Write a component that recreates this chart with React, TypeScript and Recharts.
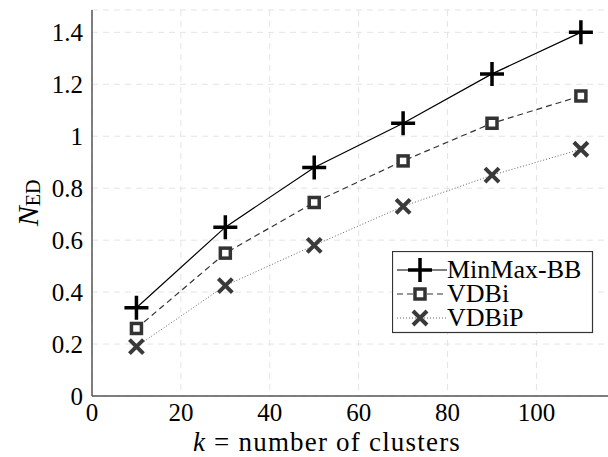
import React from "react";
import { LineChart, Line, XAxis, YAxis, CartesianGrid, Legend } from "recharts";

const clusters = [10, 30, 50, 70, 90, 110];
const minMaxBB = [0.34, 0.65, 0.88, 1.05, 1.24, 1.4];
const vdbi = [0.26, 0.55, 0.745, 0.905, 1.05, 1.155];
const vdbip = [0.19, 0.425, 0.58, 0.73, 0.85, 0.95];

const xTicks = [0, 20, 40, 60, 80, 100];
const yTicks = [0, 0.2, 0.4, 0.6, 0.8, 1, 1.2, 1.4];
const yTickLabels = ["0", "0.2", "0.4", "0.6", "0.8", "1", "1.2", "1.4"];

const data = clusters.map((k, i) => ({ k, minMax: minMaxBB[i], vdbi: vdbi[i], vdbip: vdbip[i] }));

const FONT = "Liberation Serif";

const plusMark = (cx: number, cy: number, key?: any) => (
  <path key={key} d={`M${cx - 12},${cy}h24M${cx},${cy - 12}v24`} stroke="#000" strokeWidth={3.5} fill="none" />
);
const squareMark = (cx: number, cy: number, key?: any) => (
  <rect key={key} x={cx - 5} y={cy - 5} width={10} height={10} stroke="#333" strokeWidth={3.5} fill="#fff" />
);
const crossMark = (cx: number, cy: number, key?: any) => (
  <path key={key} d={`M${cx - 7},${cy - 7}L${cx + 7},${cy + 7}M${cx - 7},${cy + 7}L${cx + 7},${cy - 7}`} stroke="#3a3a3a" strokeWidth={4} fill="none" />
);

const legendItems = [
  { name: "MinMax-BB", mark: plusMark, stroke: "#000", dash: undefined as string | undefined },
  { name: "VDBi", mark: squareMark, stroke: "#333", dash: "6 4" },
  { name: "VDBiP", mark: crossMark, stroke: "#666", dash: "1 2" },
];

function LegendBox() {
  const rows = [19, 43, 67];
  return (
    <svg width={202} height={83}>
      <rect x={0.5} y={0.5} width={200} height={81} fill="#fff" stroke="#333" strokeWidth={1.2} />
      {legendItems.map((it, i) => (
        <g key={it.name}>
          <line x1={5} x2={55} y1={rows[i]} y2={rows[i]} stroke={it.stroke} strokeWidth={1.2} strokeDasharray={it.dash} />
          {it.mark(28, rows[i])}
          <text x={55} y={rows[i] + 8} fontFamily={FONT} fontSize={26} fill="#000">
            {it.name}
          </text>
        </g>
      ))}
    </svg>
  );
}

export default function App() {
  return (
    <div style={{ position: "absolute", left: 0, top: 0, width: 608, height: 457, overflow: "hidden", background: "#fff" }}>
      <LineChart width={613} height={457} data={data} margin={{ top: 10, right: 1, left: 0, bottom: 0 }}>
        <CartesianGrid stroke="#e4e4e4" strokeDasharray="6 5" />
        <XAxis
          xAxisId="top"
          orientation="top"
          dataKey="k"
          type="number"
          domain={[0, 117]}
          height={0}
          tick={false}
          tickLine={false}
          axisLine={{ stroke: "#555", strokeWidth: 1.5 }}
        />
        <XAxis
          dataKey="k"
          type="number"
          domain={[0, 117]}
          ticks={xTicks}
          height={61}
          tickLine={false}
          tickSize={0}
          tickMargin={7}
          axisLine={{ stroke: "#555", strokeWidth: 1.5 }}
          tick={{ fontSize: 25, fill: "#000", fontFamily: FONT }}
          label={() => (
            <text x={327} y={451} textAnchor="middle" fontFamily={FONT} fontSize={27} letterSpacing={1.2} fill="#000">
              <tspan fontStyle="italic">k</tspan> = number of clusters
            </text>
          )}
        />
        <YAxis
          type="number"
          domain={[0, 1.486]}
          ticks={yTicks}
          width={92}
          tickLine={false}
          tickSize={0}
          tickMargin={9}
          axisLine={{ stroke: "#555", strokeWidth: 1.5 }}
          tick={{ fontSize: 25, fill: "#000", fontFamily: FONT }}
          tickFormatter={(v: number) => yTickLabels[yTicks.indexOf(v)] ?? String(v)}
          label={(props: any) => {
            const vb = props.viewBox || {};
            const cx = 27;
            const cy = (vb.y ?? 10) + (vb.height ?? 386) / 2;
            return (
              <text transform={`translate(${cx},${cy}) rotate(-90)`} textAnchor="middle" dominantBaseline="central" fontFamily={FONT} fill="#000">
                <tspan fontSize={30} fontStyle="italic">N</tspan>
                <tspan fontSize={20} dy={6}>ED</tspan>
              </text>
            );
          }}
        />
        <Line
          dataKey="vdbip"
          stroke="#666"
          strokeWidth={1}
          strokeDasharray="1 2"
          isAnimationActive={false}
          dot={(p: any) => crossMark(p.cx, p.cy, p.index)}
        />
        <Line
          dataKey="vdbi"
          stroke="#333"
          strokeWidth={1.2}
          strokeDasharray="6 4"
          isAnimationActive={false}
          dot={(p: any) => squareMark(p.cx, p.cy, p.index)}
        />
        <Line
          dataKey="minMax"
          stroke="#000"
          strokeWidth={1.2}
          isAnimationActive={false}
          dot={(p: any) => plusMark(p.cx, p.cy, p.index)}
        />
        <Legend
          layout="horizontal"
          verticalAlign="middle"
          align="center"
          wrapperStyle={{ left: 392, top: 251, width: 202, height: 83 }}
          content={() => <LegendBox />}
        />
      </LineChart>
    </div>
  );
}
